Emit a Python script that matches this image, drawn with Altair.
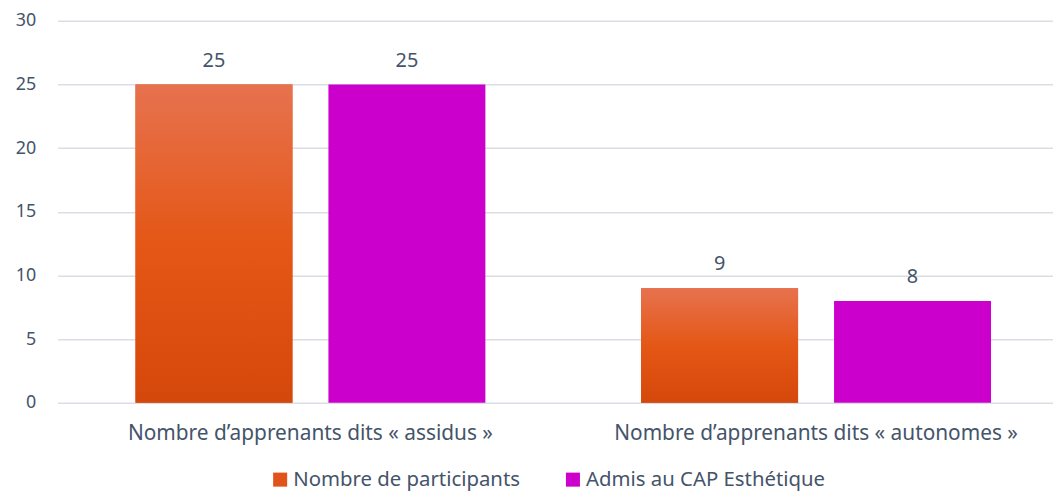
import altair as alt
import pandas as pd

categories = ["Nombre d’apprenants dits « assidus »", "Nombre d’apprenants dits « autonomes »"]
series = ["Nombre de participants", "Admis au CAP Esthétique"]
participants = [25, 9]
admis = [25, 8]
colors = ["#E0531A", "#CC00CC"]

rows = []
for i, c in enumerate(categories):
    rows.append({"cat": c, "serie": series[0], "val": participants[i]})
    rows.append({"cat": c, "serie": series[1], "val": admis[i]})
df = pd.DataFrame(rows)

FONT = "Noto Sans"
TXT = "#44546A"
FS = 18
FSL = 21

x = alt.X("cat:N", sort=categories, title=None,
          scale=alt.Scale(range=[0, 1019], paddingInner=0.308, paddingOuter=0.154),
          axis=alt.Axis(labelAngle=0, labelFontSize=FSL, labelColor=TXT, labelFont=FONT,
                        ticks=False, domain=False, labelPadding=20, grid=False,
                        labelLimit=0))
xo = alt.XOffset("serie:N", sort=series,
                 scale=alt.Scale(domain=series, paddingInner=0.1865, paddingOuter=0))
y = alt.Y("val:Q", title=None,
          scale=alt.Scale(domain=[0, 30]),
          axis=alt.Axis(values=[0, 5, 10, 15, 20, 25, 30], labelFontSize=FS, labelColor=TXT,
                        labelFont=FONT, ticks=False, domain=False, labelPadding=22,
                        gridColor="#D9DEE4", gridWidth=1.5))

base = alt.Chart(df)

bars = base.mark_bar().encode(
    x=x, xOffset=xo, y=y,
    color=alt.Color("serie:N", sort=series,
                    scale=alt.Scale(domain=series, range=colors),
                    legend=alt.Legend(title=None, orient="none", direction="horizontal",
                                      legendX=214, legendY=452, symbolType="square",
                                      symbolSize=200, symbolStrokeWidth=0,
                                      labelFontSize=20.5, labelColor=TXT, labelFont=FONT,
                                      columnPadding=42, labelOffset=3, labelLimit=0)),
)

grad = alt.Gradient(
    gradient="linear",
    stops=[alt.GradientStop(color="#E7724F", offset=0),
           alt.GradientStop(color="#E45716", offset=0.5),
           alt.GradientStop(color="#D5480B", offset=1)],
    x1=0, x2=0, y1=0, y2=1,
)

gbars = base.transform_filter(alt.datum.serie == series[0]).mark_bar(fill=grad).encode(
    x=x, xOffset=xo, y=y,
)

labels = base.mark_text(baseline="bottom", dy=-14, fontSize=20, font=FONT, color=TXT).encode(
    x=x, xOffset=xo, y=y, text=alt.Text("val:Q"),
)

chart = alt.layer(bars, gbars, labels).properties(
    width=1003, height=385,
    background="white",
    autosize=alt.AutoSizeParams(type="none"),
    padding={"left": 50, "top": 11, "right": 0, "bottom": 90},
).configure_view(strokeWidth=0, stroke="transparent")

chart.save("out.html", embed_options={"renderer": "svg", "actions": False})
